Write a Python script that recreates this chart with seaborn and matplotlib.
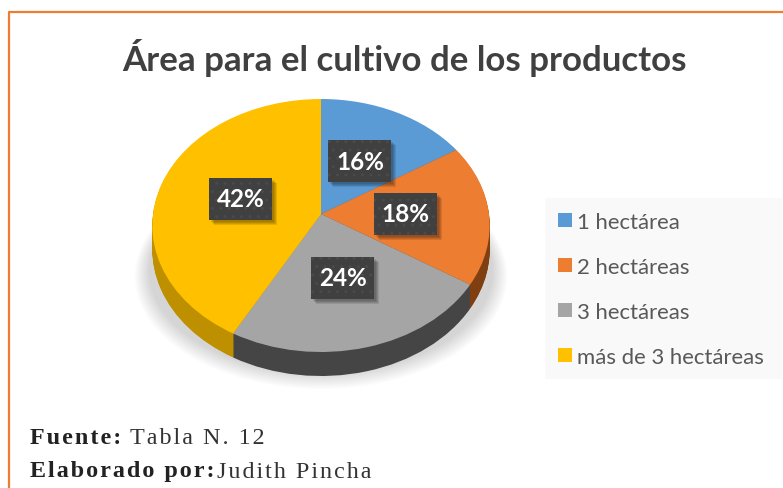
import numpy as np
import matplotlib
matplotlib.use("Agg")
import matplotlib.pyplot as plt
import matplotlib.patheffects as pe
from matplotlib.patches import Ellipse, Rectangle
from matplotlib.path import Path
from matplotlib.transforms import Transform, Affine2D
import seaborn as sns

categories = ["1 hectárea", "2 hectáreas", "3 hectáreas", "más de 3 hectáreas"]
shares = [16, 18, 24, 42]
top_hex = ["#5B9BD5", "#ED7D31", "#A5A5A5", "#FFC000"]
rim_hex = ["#35618A", "#7F3F11", "#454545", "#BE9000"]
title = "Área para el cultivo de los productos"
source_bold = ["Fuente:", "Elaborado por:"]
source_text = ["Tabla N. 12", "Judith Pincha"]

sns.set_theme(style="white")
plt.rcParams["font.family"] = ["Lato", "DejaVu Sans"]
top_colors = sns.color_palette(top_hex)
rim_colors = sns.color_palette(rim_hex)
flat = dict(linewidth=0, edgecolor="none")


class Tilt(Transform):
    """Unit pie circle -> tilted perspective ellipse, in pixel data coordinates."""
    input_dims = output_dims = 2
    has_inverse = False
    is_separable = False

    def __init__(self, cx=321.0, cy=215.0, b=168.0, a=125.45, k=0.0909):
        super().__init__()
        self.p = (cx, cy, b, a, k)

    def transform_non_affine(self, v):
        cx, cy, b, a, k = self.p
        v = np.asarray(v, float)
        d = 1 + k * v[:, 1]
        return np.column_stack([cx + b * v[:, 0] / d, cy - a * v[:, 1] / d])


class SoftShadow(pe.AbstractPathEffect):
    """Blurred-looking, unhatched shadow behind the label chips."""

    def draw_path(self, renderer, gc, tpath, affine, rgbFace):
        for off in (5, 4, 3, 2):
            g = renderer.new_gc()
            g.copy_properties(gc)
            g.set_hatch(None)
            g.set_linewidth(0)
            g.set_alpha(0.10)
            renderer.draw_path(g, tpath, affine + Affine2D().translate(off, -off), (0, 0, 0))
            g.restore()


def chip(x0, y0, w, h, mutation_size):
    cx, cy = x0 + w / 2, y0 + h / 2
    return Path.unit_rectangle().transformed(
        Affine2D().scale(63, 42).translate(cx - 31.5, cy - 21))


fig = plt.figure(figsize=(7.83, 4.89), dpi=100, facecolor="white")
ax = fig.add_axes([0, 0, 1, 1])

for dy in range(24, 0, -1):
    w, _ = ax.pie(shares, colors=rim_colors, startangle=90, counterclock=False,
                  frame=False, wedgeprops=flat)
    for p in w:
        p.set_transform(Tilt(cy=215.0 + dy) + ax.transData)
        p.set_zorder(3)

wedges, _, autos = ax.pie(shares, colors=top_colors, startangle=90, counterclock=False,
                          autopct=lambda v: f"{v:.0f}%", pctdistance=0.5, frame=False,
                          wedgeprops=flat)
for p in wedges:
    p.set_transform(Tilt() + ax.transData)
    p.set_zorder(4)
for t in autos:
    t.set_transform(Tilt() + ax.transData)
    t.set_zorder(6)
    t.set_color("white")
    t.set_fontsize(17.5)
    t.set_fontweight("bold")
    t.set_bbox(dict(facecolor="#404040", edgecolor="#4A4A4A", hatch="..", linewidth=0))
    t.get_bbox_patch().set_boxstyle(chip)
    t.get_bbox_patch().set_path_effects([SoftShadow(), pe.Normal()])

ax.set_aspect("auto")
ax.set_xlim(0, 783)
ax.set_ylim(489, 0)
ax.axis("off")

for i in range(14):
    ax.add_patch(Ellipse((321, 272 + i * 0.4), 344 + i * 2.2, 205 + i * 1.6,
                         facecolor="black", edgecolor="none", alpha=0.011, zorder=1))

ax.plot([9, 9, 783], [489, 13, 13], color="#ED7D31", lw=1.6, zorder=1, solid_capstyle="butt")

ax.text(404, 58, title, ha="center", va="center", fontsize=25.1, fontweight="bold", color="#404040")

ax.add_patch(Rectangle((545, 199), 237, 181, facecolor="#F9F9F9", edgecolor="none", zorder=1))
ax.legend(wedges, categories, loc="upper left", bbox_to_anchor=(558 / 783, 1 - 213 / 489),
          frameon=False, fontsize=15.9, labelcolor="#595959", handlelength=0.62,
          handleheight=0.62, handletextpad=0.22, labelspacing=1.13, borderpad=0, borderaxespad=0)

serif = ["Liberation Serif", "DejaVu Serif"]
hair = "\u200a"
for y, bold, x2, plain in zip([438, 472], source_bold, [130, 217], source_text):
    ax.text(30, y, hair.join(bold), family=serif, fontsize=17.4, fontweight="bold",
            color="#222222", va="center")
    ax.text(x2, y, hair.join(plain), family=serif, fontsize=17.4, color="#333333", va="center")

fig.savefig("out.png", dpi=100, facecolor="white")
